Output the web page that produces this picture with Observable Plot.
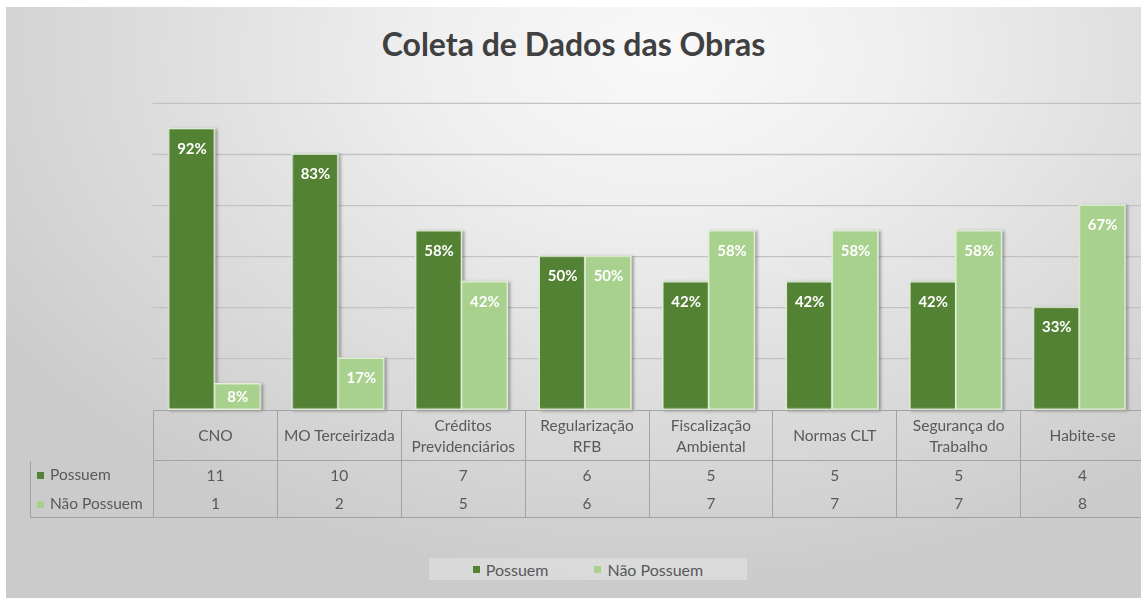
<!DOCTYPE html>
<html><head><meta charset="utf-8">
<script src="https://cdn.jsdelivr.net/npm/d3@7"></script>
<script src="https://cdn.jsdelivr.net/npm/@observablehq/plot@0.6"></script>
<style>
html,body{margin:0;padding:0;background:#fff;}
#wrap{position:relative;width:1141px;height:599px;overflow:hidden;background:#fff;font-family:Lato,"Open Sans",sans-serif;}
#bg{position:absolute;left:6px;top:7px;width:1135px;height:591px;
 background:radial-gradient(ellipse 70% 90% at 58% 8%, #f9f9f9 0%, #efefef 30%, #dedede 62%, #cbcbcb 100%);}
#title{position:absolute;left:6px;width:1135px;top:26px;text-align:center;font-weight:700;font-size:32px;line-height:36px;color:#404040;}
#chart{position:absolute;left:0;top:90px;}
#chart g[aria-label="bar"]{filter:drop-shadow(2px 1px 1.5px rgba(0,0,0,0.35));}
#tbl{position:absolute;left:30px;top:410px;border-collapse:collapse;table-layout:fixed;color:#595959;font-size:15.5px;line-height:21px;}
#tbl td{padding:0 1px;text-align:center;vertical-align:middle;border-left:1px solid #a3a3a3;border-right:1px solid #a3a3a3;overflow:hidden;}
#tbl tr.head td{height:49px;border-top:1px solid #a3a3a3;border-bottom:1px solid #a3a3a3;}
#tbl tr.head td.blank{border:none;border-right:1px solid #a3a3a3;}
#tbl tr.r1 td{height:28px;}
#tbl tr.r2 td{height:28px;border-bottom:1px solid #a3a3a3;}
#tbl td.lab{text-align:left;padding-left:6px;white-space:nowrap;}
.key{display:inline-block;width:7px;height:7px;margin-right:6px;vertical-align:1px;}
#legend{position:absolute;left:429px;top:558px;width:318px;height:22px;background:rgba(255,255,255,0.28);
 display:flex;align-items:center;justify-content:center;color:#595959;font-size:16px;}
#legend span.item{display:inline-flex;align-items:center;}
#legend span.item + span.item{margin-left:46px;}
</style></head>
<body>
<div id="wrap">
 <div id="bg"></div>
 <div id="title">Coleta de Dados das Obras</div>
 <div id="chart"></div>
 <table id="tbl"></table>
 <div id="legend"></div>
</div>
<script>
const categories = ["CNO","MO Terceirizada","Créditos Previdenciários","Regularização RFB","Fiscalização Ambiental","Normas CLT","Segurança do Trabalho","Habite-se"];
const series = ["Possuem","Não Possuem"];
const colors = ["#548235","#a9d18e"];
const possuem = [11,10,7,6,5,5,5,4];
const naoPossuem = [1,2,5,6,7,7,7,8];
const gridTicks = [2,4,6,8,10,12];

const rows = categories.flatMap((c,i) => {
  const total = possuem[i] + naoPossuem[i];
  return [
    {cat:c, series:series[0], value:possuem[i], total},
    {cat:c, series:series[1], value:naoPossuem[i], total}
  ];
});
const fmt = d3.format(".0%");
const W = 1144, ML = 153;
const plot = Plot.plot({
  width: W, height: 320, marginTop: 13, marginBottom: 0, marginLeft: ML, marginRight: 0,
  style: {background: "transparent", overflow: "visible", fontFamily: "Lato, 'Open Sans', sans-serif"},
  facet: {data: rows, x: "cat"},
  fx: {domain: categories, padding: 0, round: false, axis: null},
  x: {domain: series, paddingInner: 0, paddingOuter: 0.3465, round: false, axis: null},
  y: {domain: [0, 12], axis: null},
  color: {domain: series, range: colors},
  marks: [
    Plot.ruleY(gridTicks, {stroke: "#c2c2c2", strokeWidth: 1.3}),
    Plot.barY(rows, {x: "series", y: "value", fill: "series", stroke: "#e4f0dc", strokeWidth: 1.5, inset: 0}),
    Plot.text(rows, {filter: d => d.value > 1, x: "series", y: "value", text: d => fmt(d.value / d.total), dy: 20, fill: "white", fontWeight: 700, fontSize: 15}),
    Plot.text(rows, {filter: d => d.value <= 1, x: "series", y: d => d.value / 2, text: d => fmt(d.value / d.total), fill: "white", fontWeight: 700, fontSize: 15})
  ]
});
document.getElementById("chart").appendChild(plot);

// data table
const step = (W - ML) / categories.length;
const tbl = document.getElementById("tbl");
let html = `<colgroup><col style="width:${ML-30}px">` + categories.map(() => `<col style="width:${step}px">`).join("") + `</colgroup>`;
html += `<tr class="head"><td class="blank"></td>` + categories.map(c => `<td>${c}</td>`).join("") + `</tr>`;
const vals = [possuem, naoPossuem];
series.forEach((s, k) => {
  html += `<tr class="r${k+1}"><td class="lab"><span class="key" style="background:${colors[k]}"></span>${s}</td>` +
    vals[k].map(v => `<td>${v}</td>`).join("") + `</tr>`;
});
tbl.innerHTML = html;
tbl.style.width = (ML - 30 + step * categories.length) + "px";

// legend
document.getElementById("legend").innerHTML = series.map((s, k) =>
  `<span class="item"><span class="key" style="background:${colors[k]}"></span>${s}</span>`).join("");
</script>
</body></html>
